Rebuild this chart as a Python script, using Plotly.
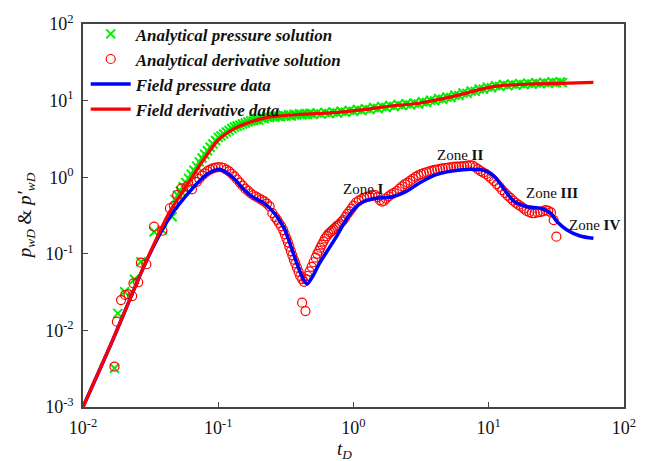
import numpy as np
import plotly.graph_objects as go

# ---- Field data curves ----
td_field_deriv = [0.01, 0.0166, 0.0275, 0.0432, 0.0575, 0.0776, 0.1, 0.1324, 0.175, 0.2317,
                  0.4055, 0.711, 1.245, 1.905, 3.05, 5.35, 9.35, 12.4, 21.7, 33.9, 59.4]
p_field_deriv = [0.001, 0.0075, 0.0617, 0.341, 0.745, 1.675, 3.06, 4.345, 5.31, 6.05,
                 6.62, 6.95, 7.69, 8.51, 9.23, 11.25, 14.45, 15.67, 16.5, 16.8, 17.3]

td_field_press = [0.01, 0.0166, 0.0275, 0.0355, 0.0454, 0.0571, 0.0714, 0.0845, 0.1028, 0.1285,
                  0.148, 0.175, 0.2193, 0.2594, 0.3069, 0.3357, 0.3733, 0.417, 0.454, 0.508,
                  0.5623, 0.631, 0.7516, 0.863, 0.9954, 1.178, 1.472, 1.95, 2.438, 3.048,
                  4.036, 5.346, 7.482, 9.354, 11.07, 13.09, 15.49, 19.36, 24.27, 28.71,
                  32.06, 37.93, 47.42, 59.43]
p_field_press = [0.001, 0.0075, 0.0617, 0.158, 0.331, 0.556, 0.865, 1.125, 1.262, 0.991,
                 0.752, 0.569, 0.456, 0.341, 0.215, 0.1426, 0.083, 0.0502, 0.0404, 0.0537,
                 0.0759, 0.1047, 0.170, 0.2624, 0.3733, 0.4786, 0.530, 0.556, 0.647, 0.832,
                 1.069, 1.205, 1.268, 1.216, 1.016, 0.681, 0.4786, 0.412, 0.393, 0.338,
                 0.2624, 0.2046, 0.1706, 0.1592]

# ---- Analytical pressure solution (crosses) ----
td_anal_press = [0.0171, 0.0181, 0.0203, 0.024, 0.0268, 0.0336, 0.0386, 0.0456,
                 0.0479, 0.0501, 0.0525, 0.055, 0.0575, 0.0603, 0.0631, 0.0661, 0.0692, 0.0724,
                 0.0759, 0.0794, 0.0832, 0.0871, 0.0912, 0.0955, 0.1, 0.1047, 0.1096, 0.1148,
                 0.1202, 0.1259, 0.1318, 0.138, 0.1445, 0.1514, 0.1585, 0.166, 0.1738, 0.182,
                 0.1905, 0.1995, 0.2089, 0.2188, 0.2291, 0.2399, 0.2512, 0.263, 0.2754, 0.2884,
                 0.302, 0.3162, 0.3311, 0.3467, 0.3631, 0.3802, 0.3981, 0.4169, 0.4365, 0.4571,
                 0.4786, 0.5012, 0.537, 0.5754, 0.6166, 0.6607, 0.7079, 0.7586, 0.8128, 0.871,
                 0.9333, 1.0, 1.072, 1.148, 1.23, 1.318, 1.413, 1.514, 1.622, 1.738,
                 1.862, 1.995, 2.138, 2.291, 2.455, 2.63, 2.818, 3.02, 3.236, 3.467,
                 3.715, 3.981, 4.266, 4.571, 4.898, 5.248, 5.623, 6.026, 6.457, 6.918,
                 7.413, 7.943, 8.511, 9.12, 9.772, 10.47, 11.22, 12.02, 12.88, 13.8,
                 14.79, 15.85, 16.98, 18.2, 19.5, 20.89, 22.39, 23.99, 25.7, 27.54,
                 29.51, 31.62, 33.88, 35.08]
p_anal_press = [0.0032, 0.0167, 0.032, 0.0465, 0.0789, 0.194, 0.2046, 0.305,
                0.513, 0.582, 0.661, 0.75, 0.851, 0.966, 1.096, 1.23, 1.396, 1.585,
                1.778, 1.995, 2.213, 2.455, 2.723, 3.02, 3.311, 3.467, 3.673, 3.89,
                4.074, 4.315, 4.519, 4.656, 4.786, 4.955, 5.093, 5.248, 5.408, 5.495,
                5.623, 5.559, 5.888, 5.821, 6.166, 5.998, 6.237, 6.095, 6.31, 6.166,
                6.457, 6.237, 6.531, 6.31, 6.607, 6.457, 6.73, 6.531, 6.761, 6.577,
                6.823, 6.607, 6.918, 6.699, 7.015, 6.761, 7.112, 6.887, 7.278, 7.047,
                7.447, 7.244, 7.656, 7.413, 7.852, 7.621, 8.128, 7.87, 8.375, 8.128,
                8.67, 8.395, 8.872, 8.59, 9.078, 8.79, 9.311, 9.016, 9.661, 9.441,
                10.12, 9.908, 10.64, 10.4, 11.17, 10.96, 11.8, 11.64, 12.56, 12.42,
                13.37, 13.18, 14.19, 14.06, 15.0, 14.72, 15.63, 15.35, 16.22, 15.7,
                16.41, 15.96, 16.67, 16.22, 16.9, 16.44, 17.14, 16.67, 17.3, 16.83,
                17.46, 17.06, 17.54, 17.18]

# ---- Analytical derivative solution (open circles) ----
td_anal_deriv = [0.0171, 0.0178, 0.0191, 0.0205, 0.0217, 0.0231, 0.0236, 0.0256, 0.0268, 0.0294,
                 0.0335, 0.0386, 0.0439, 0.047, 0.0497, 0.0535, 0.0588, 0.0639,
                 0.0692, 0.0724, 0.0759, 0.0794, 0.0832, 0.0871, 0.0912, 0.0955, 0.1, 0.1047,
                 0.1096, 0.1148, 0.1202, 0.1259, 0.1318, 0.138, 0.1445, 0.1514, 0.1585, 0.166,
                 0.1738, 0.182, 0.1905, 0.1995, 0.2089, 0.2188, 0.2291, 0.2399,
                 0.2512, 0.263, 0.2723, 0.2818, 0.2917, 0.302, 0.3105, 0.3192, 0.3273, 0.3357,
                 0.3443, 0.3532, 0.3622, 0.3715, 0.3819, 0.3926, 0.4036, 0.417, 0.4305,
                 0.417, 0.4416,
                 0.4446, 0.4571, 0.4732, 0.4898, 0.507, 0.5248, 0.5395, 0.5559, 0.5689, 0.5834,
                 0.5998, 0.6166, 0.6353, 0.6531, 0.6714, 0.6918, 0.7112, 0.7311, 0.7516, 0.7727,
                 0.7943, 0.8185, 0.8414, 0.871, 0.9016, 0.9333, 0.966, 1.0, 1.047, 1.096,
                 1.148, 1.202, 1.259, 1.318, 1.38, 1.445, 1.514, 1.567, 1.622, 1.679,
                 1.738, 1.82, 1.905, 1.995, 2.089, 2.188, 2.291, 2.399, 2.512, 2.63,
                 2.754, 2.884, 3.02, 3.162, 3.311, 3.467, 3.631, 3.802, 3.981, 4.169,
                 4.365, 4.571, 4.786, 5.012, 5.248, 5.495, 5.754, 6.026, 6.31, 6.607,
                 6.918, 7.244, 7.586, 7.943, 8.318, 8.71, 9.12, 9.55, 10.0, 10.47,
                 10.96, 11.48, 12.02, 12.59, 13.18, 13.8, 14.45, 15.14, 15.85, 16.6,
                 17.38, 18.2, 19.05, 19.95, 20.89, 21.88, 22.91, 23.99, 25.12, 26.3,
                 27.54, 28.84, 30.2, 31.62]
p_anal_deriv = [0.00336, 0.013, 0.0249, 0.029, 0.0296, 0.0281, 0.0412, 0.0425, 0.0766, 0.073,
                0.226, 0.2, 0.393, 0.421, 0.586, 0.716, 0.752, 0.695,
                0.871, 0.955, 1.047, 1.122, 1.202, 1.259, 1.303, 1.334, 1.349, 1.349,
                1.318, 1.259, 1.189, 1.109, 1.023, 0.933, 0.851, 0.776, 0.708, 0.661,
                0.617, 0.582, 0.556, 0.531, 0.507, 0.484, 0.452, 0.417,
                0.339, 0.302, 0.2773, 0.2523, 0.2296, 0.2042, 0.1799, 0.1585, 0.1413, 0.1239,
                0.1086, 0.0955, 0.0839, 0.0748, 0.0659, 0.0582, 0.0513, 0.0468, 0.0431,
                0.023, 0.0179,
                0.0468, 0.0513, 0.0589, 0.0676, 0.0776, 0.0891, 0.1, 0.1096, 0.1202, 0.1318,
                0.1445, 0.1585, 0.1698, 0.182, 0.1905, 0.1995, 0.2089, 0.2188, 0.2291, 0.2371,
                0.2483, 0.263, 0.2754, 0.302, 0.3311, 0.3589, 0.389, 0.4266, 0.4677, 0.4955,
                0.5188, 0.537, 0.5521, 0.5623, 0.5754, 0.5821, 0.5495, 0.5012, 0.4786, 0.4898,
                0.5248, 0.5623, 0.5957, 0.6237, 0.6607, 0.7079, 0.7586, 0.8128, 0.8511, 0.9016,
                0.955, 1.012, 1.059, 1.096, 1.135, 1.161, 1.189, 1.216, 1.245, 1.259,
                1.288, 1.303, 1.318, 1.334, 1.349, 1.365, 1.374, 1.38, 1.387, 1.396,
                1.413, 1.429, 1.413, 1.349, 1.274, 1.202, 1.148, 1.096, 1.023, 0.955,
                0.891, 0.8128, 0.7499, 0.6761, 0.6237, 0.5754, 0.537, 0.4955, 0.4624, 0.4365,
                0.4121, 0.389, 0.3631, 0.3508, 0.3388, 0.3388, 0.3467, 0.3508, 0.3589, 0.3715,
                0.3631, 0.3467, 0.2754, 0.1671]

# ---- Axis ticks and zone labels ----
x_tickvals = [0.01, 0.1, 1, 10, 100]
x_ticktext = ["10<sup>-2</sup>", "10<sup>-1</sup>", "10<sup>0</sup>", "10<sup>1</sup>", "10<sup>2</sup>"]
y_tickvals = [0.001, 0.01, 0.1, 1, 10, 100]
y_ticktext = ["10<sup>-3</sup>", "10<sup>-2</sup>", "10<sup>-1</sup>", "10<sup>0</sup>",
              "10<sup>1</sup>", "10<sup>2</sup>"]

zone_text = ["Zone <b>I</b>", "Zone <b>II</b>", "Zone <b>III</b>", "Zone <b>IV</b>"]
zone_td = [1.18, 6.14, 29.3, 60.4]
zone_p = [0.70, 1.95, 0.622, 0.238]

SERIF = "Liberation Serif, Times New Roman, serif"

fig = go.Figure()

fig.add_trace(go.Scatter(
    x=td_anal_press, y=p_anal_press, mode="markers",
    name="<b><i>Analytical pressure solution</i></b>",
    marker=dict(symbol="x-thin-open", size=9, color="#00ee00",
                line=dict(color="#00ee00", width=2)),
))
fig.add_trace(go.Scatter(
    x=td_anal_deriv, y=p_anal_deriv, mode="markers",
    name="<b><i>Analytical derivative solution</i></b>",
    marker=dict(symbol="circle-open", size=9, color="#ff0000",
                line=dict(color="#ff0000", width=1.2)),
))
fig.add_trace(go.Scatter(
    x=td_field_press, y=p_field_press, mode="lines",
    name="<b><i>Field pressure data</i></b>",
    line=dict(color="#0000ff", width=3.5, shape="spline", smoothing=0.8),
))
fig.add_trace(go.Scatter(
    x=td_field_deriv, y=p_field_deriv, mode="lines",
    name="<b><i>Field derivative data</i></b>",
    line=dict(color="#ff0000", width=3.2, shape="spline", smoothing=0.8),
))

for txt, tx, ty in zip(zone_text, zone_td, zone_p):
    fig.add_annotation(x=np.log10(tx), y=np.log10(ty), xref="x", yref="y", text=txt,
                       showarrow=False, font=dict(family=SERIF, size=15, color="#111"))

# axis titles
fig.add_annotation(x=-0.106, y=0.5, xref="paper", yref="paper", textangle=-90,
                   xanchor="center", yanchor="middle",
                   text="<i>p<sub>wD</sub></i> & <i>p′<sub>wD</sub></i>", showarrow=False,
                   font=dict(family=SERIF, size=19, color="#111"))
fig.add_annotation(x=0.484, y=-0.112, xref="paper", yref="paper",
                   xanchor="center", yanchor="middle",
                   text="<i>t<sub>D</sub></i>", showarrow=False,
                   font=dict(family=SERIF, size=19, color="#111"))

axis_common = dict(
    showgrid=False, zeroline=False, showline=True, linecolor="#444", linewidth=1.5,
    mirror=True, ticks="inside", ticklen=5, tickwidth=1.2, tickcolor="#444",
    tickfont=dict(family=SERIF, size=18, color="#111"),
)
fig.update_xaxes(type="log", range=[-2, 2], tickvals=x_tickvals, ticktext=x_ticktext,
                 ticklabelstandoff=4, **axis_common)
fig.update_yaxes(type="log", range=[-3, 2], tickvals=y_tickvals, ticktext=y_ticktext,
                 ticklabelstandoff=4, **axis_common)

fig.update_layout(
    width=648, height=461,
    margin=dict(l=83, r=17, t=24, b=54),
    paper_bgcolor="white", plot_bgcolor="white",
    showlegend=True,
    legend=dict(x=0.005, y=1.02, xanchor="left", yanchor="top", bgcolor="rgba(0,0,0,0)",
                font=dict(family=SERIF, size=17, color="#111"), tracegroupgap=0,
                itemwidth=40),
)

fig.write_html("out.html")
